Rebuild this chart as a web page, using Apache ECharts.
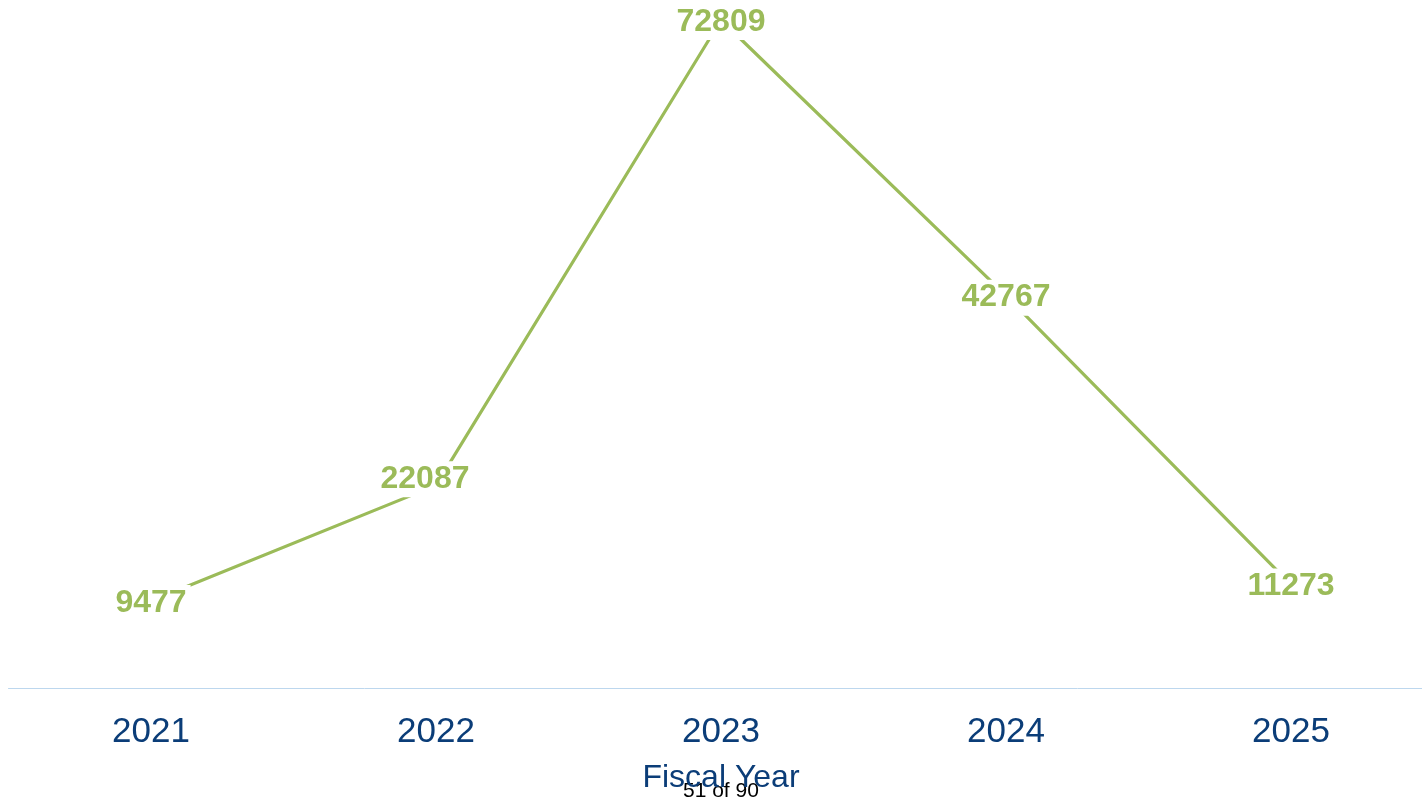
<!DOCTYPE html>
<html>
<head>
<meta charset="utf-8">
<script src="https://cdn.jsdelivr.net/npm/echarts@6/dist/echarts.min.js"></script>
<style>
  html, body { margin: 0; padding: 0; background: #fff; overflow: hidden; }
  #chart { width: 1440px; height: 804px; }
</style>
</head>
<body>
<div id="chart"></div>
<script>
// data
const years = ['2021', '2022', '2023', '2024', '2025']
const counts = [9477, 22087, 72809, 42767, 11273]
const axisTitle = 'Fiscal Year'
const pageNote = '51 of 90'

// 2022 label sits a bit up-left of its point in the original
let points = counts.map((v, i) => {
  if (i === 1) return { value: v, label: { offset: [-11, -6] } }
  return v
})

let chart = echarts.init(document.getElementById('chart'))
chart.setOption({
  animation: false,
  grid: {
    top: 20,
    left: 8.5,
    width: 1425,
    bottom: 116,
    containLabel: false,
    outerBoundsMode: 'none'
  },
  xAxis: {
    type: 'category',
    data: years,
    boundaryGap: true,
    axisTick: { show: false },
    axisLine: {
      lineStyle: { color: '#BDD7EE', width: 1 }
    },
    axisLabel: {
      color: '#0B3D78',
      fontSize: 35,
      fontFamily: 'Liberation Sans, Arial, sans-serif',
      margin: 27
    },
    name: axisTitle,
    nameLocation: 'middle',
    nameGap: 74,
    nameTextStyle: {
      color: '#0B3D78',
      fontSize: 32,
      fontFamily: 'Liberation Sans, Arial, sans-serif'
    }
  },
  yAxis: {
    type: 'value',
    min: 0,
    max: 'dataMax',
    show: false,
    splitLine: { show: false }
  },
  series: [
    {
      type: 'line',
      data: points,
      showSymbol: true,
      symbol: 'circle',
      symbolSize: 0,
      lineStyle: { color: '#9BBB59', width: 3.2 },
      itemStyle: { color: '#9BBB59' },
      label: {
        show: true,
        position: 'inside',
        offset: [0, 2],
        color: '#9BBB59',
        fontSize: 32,
        fontWeight: 'bold',
        fontFamily: 'Liberation Sans, Arial, sans-serif',
        backgroundColor: '#fff',
        padding: [2, 4]
      }
    }
  ],
  graphic: [
    {
      type: 'text',
      left: 683,
      top: 781,
      style: {
        text: pageNote,
        fill: '#000',
        fontSize: 21,
        fontFamily: 'Liberation Sans, Arial, sans-serif'
      }
    }
  ]
})
</script>
</body>
</html>
